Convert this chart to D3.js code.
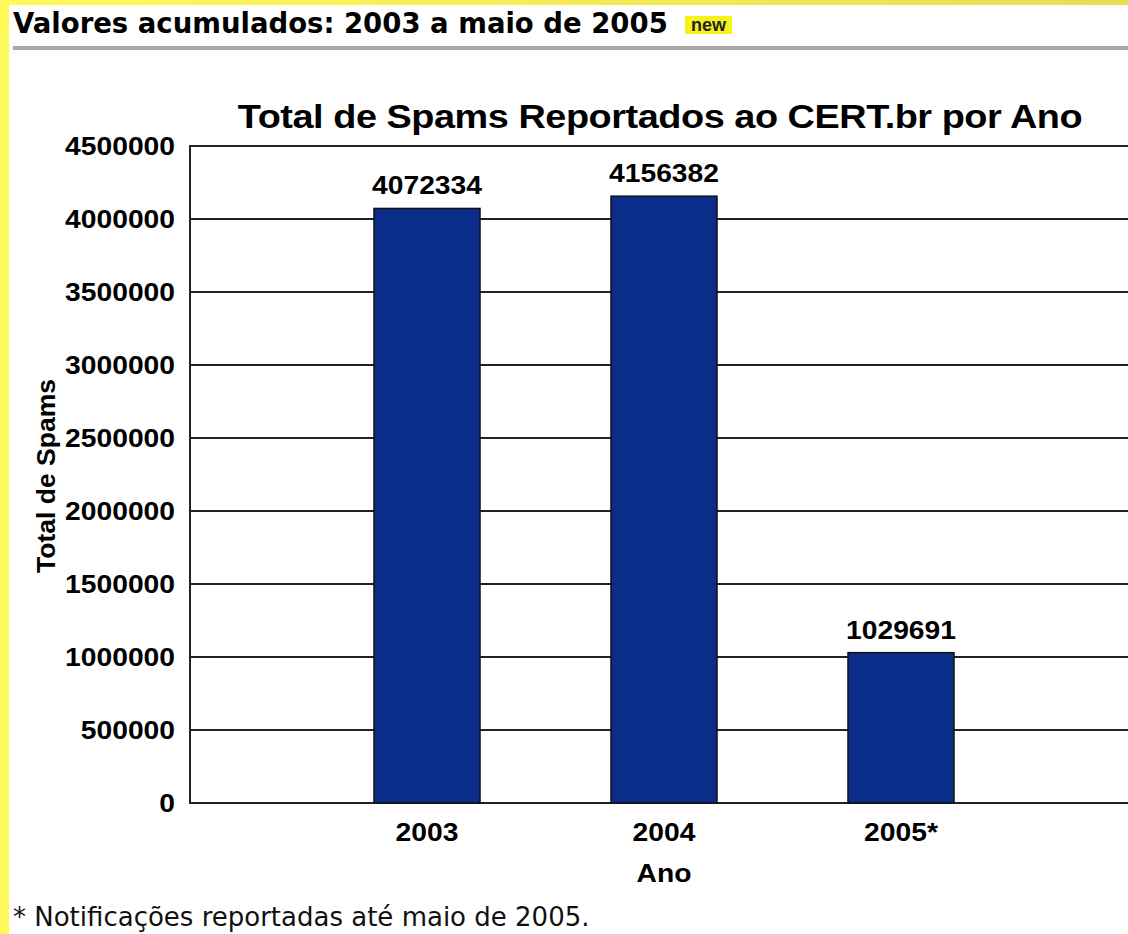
<!DOCTYPE html>
<html>
<meta charset="utf-8">
<style>
 body { margin:0; background:#fff; }
 svg { display:block; }
</style>
<script src="https://d3js.org/d3.v7.min.js"></script>
<body>
<svg width="1128" height="934"></svg>
<script>
// data
const years = ["2003", "2004", "2005*"];
const spams = [4072334, 4156382, 1029691];
const yTicks = [0, 500000, 1000000, 1500000, 2000000, 2500000, 3000000, 3500000, 4000000, 4500000];

const svg = d3.select('svg');
const W = 1128, H = 934;
const font = '"Liberation Sans", Arial, sans-serif';
const sx = 1.13; // the chart picture is a little stretched sideways

// yellow frame on left and top
const grad = svg.append('defs').append('linearGradient')
	.attr('id', 'yel').attr('x1', 0).attr('x2', 1).attr('y1', 0).attr('y2', 0);
grad.append('stop').attr('offset', 0).attr('stop-color', '#fffb5a');
grad.append('stop').attr('offset', 1).attr('stop-color', '#e9dc55');
svg.append('rect').attr('x', 0).attr('y', 0).attr('width', W).attr('height', 5).attr('fill', 'url(#yel)');
svg.append('rect').attr('x', 0).attr('y', 0).attr('width', 9).attr('height', H).attr('fill', '#fff95c');

// header
svg.append('text')
	.attr('x', 13).attr('y', 33)
	.attr('font-family', '"DejaVu Sans", Verdana, sans-serif')
	.attr('font-weight', 'bold').attr('font-size', 27.5)
	.text('Valores acumulados: 2003 a maio de 2005');
svg.append('rect').attr('x', 685).attr('y', 16).attr('width', 47).attr('height', 18).attr('fill', '#f5f31a');
svg.append('text')
	.attr('x', 708.5).attr('y', 31).attr('text-anchor', 'middle')
	.attr('font-family', font)
	.attr('font-weight', 'bold').attr('font-size', 18).attr('fill', '#222')
	.text('new');
svg.append('rect').attr('x', 13).attr('y', 46).attr('width', W - 13).attr('height', 4).attr('fill', '#a6a6a6');

// chart
const plotL = 190, plotR = 1138, plotT = 146, plotB = 803;
const x = d3.scalePoint().domain(years).range([plotL, plotR]).padding(1);
const y = d3.scaleLinear().domain([0, 4500000]).range([plotB, plotT]);
const barW = 106;

// bold label, stretched like the source picture
const label = (g, tx, ty, anchor, size) => g
	.attr('transform', (d, i) => `translate(${tx(d, i)},${ty(d, i)}) scale(${sx},1)`)
	.attr('text-anchor', anchor)
	.attr('font-family', font).attr('font-weight', 'bold').attr('font-size', size);

svg.append('text')
	.call(label, () => 660, () => 128, 'middle', 33.5)
	.attr('letter-spacing', -0.4)
	.text('Total de Spams Reportados ao CERT.br por Ano');

// gridlines
svg.append('g').selectAll('line').data(yTicks).join('line')
	.attr('x1', plotL).attr('x2', W)
	.attr('y1', d => y(d)).attr('y2', d => y(d))
	.attr('stroke', '#222').attr('stroke-width', 2);

// y axis line
svg.append('line').attr('x1', plotL).attr('x2', plotL).attr('y1', plotT - 1).attr('y2', plotB + 1)
	.attr('stroke', '#222').attr('stroke-width', 2);

// y tick labels
svg.append('g').selectAll('text').data(yTicks).join('text')
	.call(label, () => 175, d => y(d) + 9, 'end', 25)
	.text(d => d);

// bars
svg.append('g').selectAll('rect').data(spams).join('rect')
	.attr('x', (d, i) => x(years[i]) - barW / 2)
	.attr('y', d => y(d))
	.attr('width', barW)
	.attr('height', d => plotB - y(d))
	.attr('fill', '#0b2d8a')
	.attr('stroke', '#111').attr('stroke-width', 1.5);

// value labels
svg.append('g').selectAll('text').data(spams).join('text')
	.call(label, (d, i) => x(years[i]), d => y(d) - 14, 'middle', 25)
	.text(d => d);

// x labels
svg.append('g').selectAll('text').data(years).join('text')
	.call(label, d => x(d), () => 841, 'middle', 25)
	.text(d => d);

svg.append('text')
	.call(label, () => x(years[1]), () => 882, 'middle', 25)
	.text('Ano');

svg.append('text')
	.attr('transform', 'translate(55,476) rotate(-90)')
	.attr('text-anchor', 'middle')
	.attr('font-family', font).attr('font-weight', 'bold').attr('font-size', 26.5)
	.text('Total de Spams');

// footnote
svg.append('text')
	.attr('x', 13).attr('y', 926)
	.attr('font-family', '"DejaVu Sans", Verdana, sans-serif')
	.attr('font-size', 26).attr('fill', '#111')
	.text('* Notificações reportadas até maio de 2005.');
</script>
</body>
</html>
